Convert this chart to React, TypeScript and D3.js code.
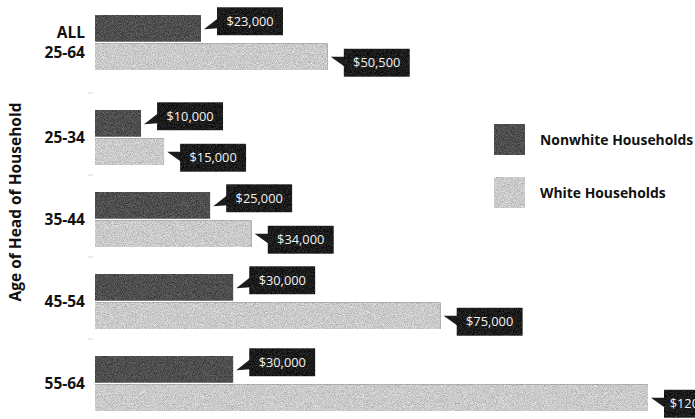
import React from "react";
import * as d3 from "d3";

const categories = ["ALL 25-64", "25-34", "35-44", "45-54", "55-64"];
const nonwhiteValues = [23000, 10000, 25000, 30000, 30000];
const whiteValues = [50500, 15000, 34000, 75000, 120000];
const seriesNames = ["Nonwhite Households", "White Households"];
const axisTitle = "Age of Head of Household";

const W = 695;
const H = 419;
const DARK = "#4f4f4f";
const LIGHT = "#cbcbcb";
const BOX = "#1c1c1c";

export default function App() {
  const x = d3.scaleLinear().domain([0, 120000]).range([95, 648]);
  // group band: ALL gets extra gap after it
  const group = d3
    .scaleBand<string>()
    .domain(categories)
    .range([15, 15 + 82 * 5 - 27])
    .paddingInner(27 / 82)
    .paddingOuter(0);
  const gy = (c: string, i: number) => (group(c) as number) + (i > 0 ? 13 : 0);
  const inner = d3
    .scaleBand<string>()
    .domain(seriesNames)
    .range([0, group.bandwidth()])
    .paddingInner(0.06);
  const fmt = d3.format("$,");
  const color = d3.scaleOrdinal<string, string>().domain(seriesNames).range([DARK, LIGHT]);

  const bars: any[] = [];
  categories.forEach((c, i) => {
    [nonwhiteValues[i], whiteValues[i]].forEach((v, s) => {
      bars.push({ c, i, s, v, name: seriesNames[s] });
    });
  });

  const font = "'Open Sans', 'DejaVu Sans', sans-serif";
  const bh = inner.bandwidth();

  return (
    <svg width={W} height={H} style={{ position: "absolute", left: 0, top: 0, background: "#fff" }}>
      <defs>
        <filter id="grain" x="0" y="0" width="100%" height="100%" colorInterpolationFilters="sRGB">
          <feTurbulence type="fractalNoise" baseFrequency="1.1" numOctaves="2" seed="4" result="t" />
          <feColorMatrix
            in="t"
            type="matrix"
            values="0.33 0.33 0.33 0 0  0.33 0.33 0.33 0 0  0.33 0.33 0.33 0 0  0 0 0 0 1"
            result="g"
          />
          <feComposite in="g" in2="SourceGraphic" operator="arithmetic" k1="0" k2="0.7" k3="1" k4="-0.35" result="m" />
          <feComposite in="m" in2="SourceGraphic" operator="in" />
        </filter>
      </defs>
      <rect x={0} y={0} width={W} height={H} fill="#fff" />

      {/* faint axis ticks between groups */}
      {categories.slice(1).map((c, i) => {
        const y = gy(c, i + 1) - 17;
        return <line key={"t" + c} x1={88} x2={93} y1={y} y2={y} stroke="#d8d8d8" strokeWidth={1} />;
      })}

      {/* bars */}
      {bars.map((b) => {
        const y = gy(b.c, b.i) + (inner(b.name) as number);
        return (
          <rect
            key={b.c + b.s}
            x={x(0)}
            y={y}
            width={x(b.v) - x(0)}
            height={bh}
            fill={color(b.name)}
            filter="url(#grain)"
          />
        );
      })}

      {/* callouts */}
      {bars.map((b) => {
        const y = gy(b.c, b.i) + (inner(b.name) as number);
        const cy = y + bh / 2;
        const end = x(b.v);
        const bw = 66;
        const bhh = 28;
        const bx = end + 16;
        const by = b.s === 0 ? cy - 7 - bhh / 2 : cy + 6 - bhh / 2;
        const tri =
          b.s === 0
            ? `M${end + 3},${cy + 1} L${bx + 1},${by + 11} L${bx + 1},${by + 21} Z`
            : `M${end + 3},${cy} L${bx + 1},${by + 8} L${bx + 1},${by + 18} Z`;
        return (
          <g key={"c" + b.c + b.s}>
            <path d={tri} fill={BOX} />
            <rect x={bx} y={by} width={bw} height={bhh} fill={BOX} filter="url(#grain)" />
            <text
              x={bx + bw / 2}
              y={by + bhh / 2}
              dy="0.35em"
              textAnchor="middle"
              fill="#f2f2f2"
              fontFamily={font}
              fontSize={12.8}
            >
              {fmt(b.v)}
            </text>
          </g>
        );
      })}

      {/* category labels */}
      {categories.map((c, i) => {
        const cy = gy(c, i) + group.bandwidth() / 2;
        const parts = c.split(" ");
        return (
          <text
            key={"l" + c}
            x={85}
            y={cy}
            textAnchor="end"
            fontFamily={font}
            fontWeight={700}
            fontSize={15.5}
            fill="#111"
          >
            {parts.length === 1 ? (
              <tspan x={85} dy="0.35em">{c}</tspan>
            ) : (
              parts.map((p, k) => (
                <tspan key={k} x={85} dy={k === 0 ? "-0.3em" : "1.3em"}>
                  {p}
                </tspan>
              ))
            )}
          </text>
        );
      })}

      {/* axis title */}
      <text
        transform={`translate(16,${202}) rotate(-90)`}
        textAnchor="middle"
        fontFamily={font}
        fontWeight={700}
        fontSize={15.5}
        fill="#111"
        dy="0.35em"
      >
        {axisTitle}
      </text>

      {/* legend */}
      {seriesNames.map((s, k) => {
        const y = 124 + k * 53;
        return (
          <g key={"lg" + s}>
            <rect x={494} y={y} width={31} height={31} fill={color(s)} filter="url(#grain)" />
            <text
              x={540}
              y={y + 16}
              dy="0.35em"
              fontFamily={font}
              fontWeight={700}
              fontSize={13.9}
              fill="#111"
            >
              {s}
            </text>
          </g>
        );
      })}
    </svg>
  );
}
